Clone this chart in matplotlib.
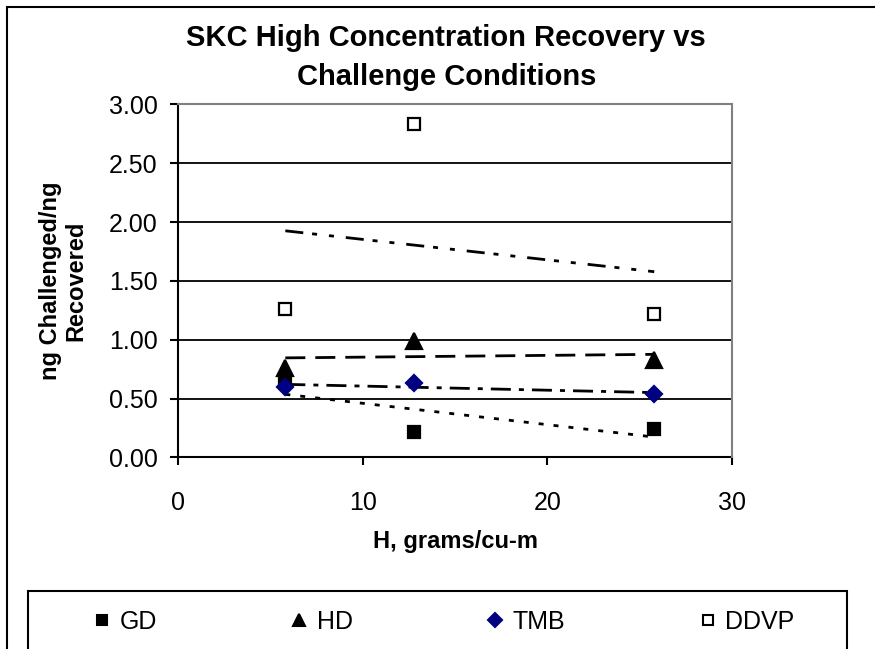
import numpy as np
import matplotlib
matplotlib.use("Agg")
import matplotlib.pyplot as plt
from matplotlib.lines import Line2D
from matplotlib.patches import Rectangle

# ─── DATA ────────────────────────────────────────────────
h_conc = [5.8, 12.8, 25.8]          # H, grams/cu-m
gd     = [0.66, 0.22, 0.24]
hd     = [0.76, 0.99, 0.83]
tmb    = [0.60, 0.63, 0.54]
ddvp   = [1.26, 2.83, 1.22]

series_names = ["GD", "HD", "TMB", "DDVP"]
yticks = [0.0, 0.5, 1.0, 1.5, 2.0, 2.5, 3.0]
xticks = [0, 10, 20, 30]

NAVY = "#000080"; GREY = "#808080"
plt.rcParams.update({
    "font.family": ["Liberation Sans", "DejaVu Sans"],
    "axes.linewidth": 1.5,
})

fig = plt.figure(figsize=(8.75, 6.49), dpi=100)
ax = fig.add_axes([0.2038, 0.2951, 0.6325, 0.5439])

# series styles: marker, face, edge, size, trend dash pattern
styles = {
    "GD":   dict(marker="s", mfc="black", mec="black", ms=8.5, dashes=(1.8, 3.6)),
    "HD":   dict(marker="^", mfc="black", mec="black", ms=11, dashes=(7.2, 3.6)),
    "TMB":  dict(marker="D", mfc=NAVY, mec=NAVY, ms=8.5, dashes=(7.2, 2.9, 1.8, 2.9)),
    "DDVP": dict(marker="s", mfc="white", mec="black", ms=9, dashes=(6.5, 3.2, 1.8, 4.3, 1.8, 4.3)),
}
values = {"GD": gd, "HD": hd, "TMB": tmb, "DDVP": ddvp}

# ─── TRENDLINES (linear fit, like Excel) ────────────────
xfit = np.array([min(h_conc), max(h_conc)])
for name in series_names:
    k, b = np.polyfit(h_conc, values[name], 1)
    ax.plot(xfit, k * xfit + b, color="black", lw=2.0,
            dashes=styles[name]["dashes"], zorder=3)

# ─── MARKERS ─────────────────────────────────────────────
for name in series_names:
    st = styles[name]
    ax.plot(h_conc, values[name], ls="none", marker=st["marker"],
            mfc=st["mfc"], mec=st["mec"], ms=st["ms"], mew=1.6, zorder=4)

ax.set_xlim(0, 30)
ax.set_ylim(0, 3)
ax.set_xticks(xticks)
ax.set_yticks(yticks)
ax.set_yticklabels([f"{v:.2f}" for v in yticks])
ax.tick_params(axis="both", labelsize=18, direction="out", width=1.5, length=6)
ax.tick_params(axis="y", pad=9)
ax.tick_params(axis="x", pad=18)
ax.grid(axis="y", color="black", lw=1.3)
ax.set_axisbelow(True)
for side in ["top", "right"]:
    ax.spines[side].set_color(GREY)
    ax.spines[side].set_zorder(5)

ax.set_xlabel("H, grams/cu-m", fontsize=17, fontweight="bold", labelpad=11)
ax.set_ylabel("ng Challenged/ng\nRecovered", fontsize=17, fontweight="bold",
              labelpad=15, linespacing=1.15)

fig.text(0.51, 0.911, "SKC High Concentration Recovery vs\nChallenge Conditions",
         ha="center", va="center", fontsize=21, fontweight="bold", linespacing=1.5)

# ─── LEGEND + FRAMES ─────────────────────────────────────
handles = [Line2D([], [], ls="none", marker=styles[n]["marker"],
                  mfc=styles[n]["mfc"], mec=styles[n]["mec"],
                  ms=styles[n]["ms"] * 0.85, mew=1.5) for n in series_names]
fig.legend(handles, series_names, loc="center left",
           bbox_to_anchor=(92 / 875, 1 - 622 / 649), ncol=4, frameon=False,
           fontsize=18, handlelength=0.8, handletextpad=0.3,
           columnspacing=5.3, borderpad=0, borderaxespad=0)

fig.add_artist(Rectangle((28 / 875, -0.1), (847 - 28) / 875, 58 / 649 + 0.1,
                         transform=fig.transFigure, fill=False,
                         ec="black", lw=1.5))
fig.add_artist(Rectangle((7 / 875, -0.1), 1.1, 1 - 7 / 649 + 0.1,
                         transform=fig.transFigure, fill=False,
                         ec="black", lw=1.5))

fig.savefig("out.png", dpi=100, facecolor="white")
